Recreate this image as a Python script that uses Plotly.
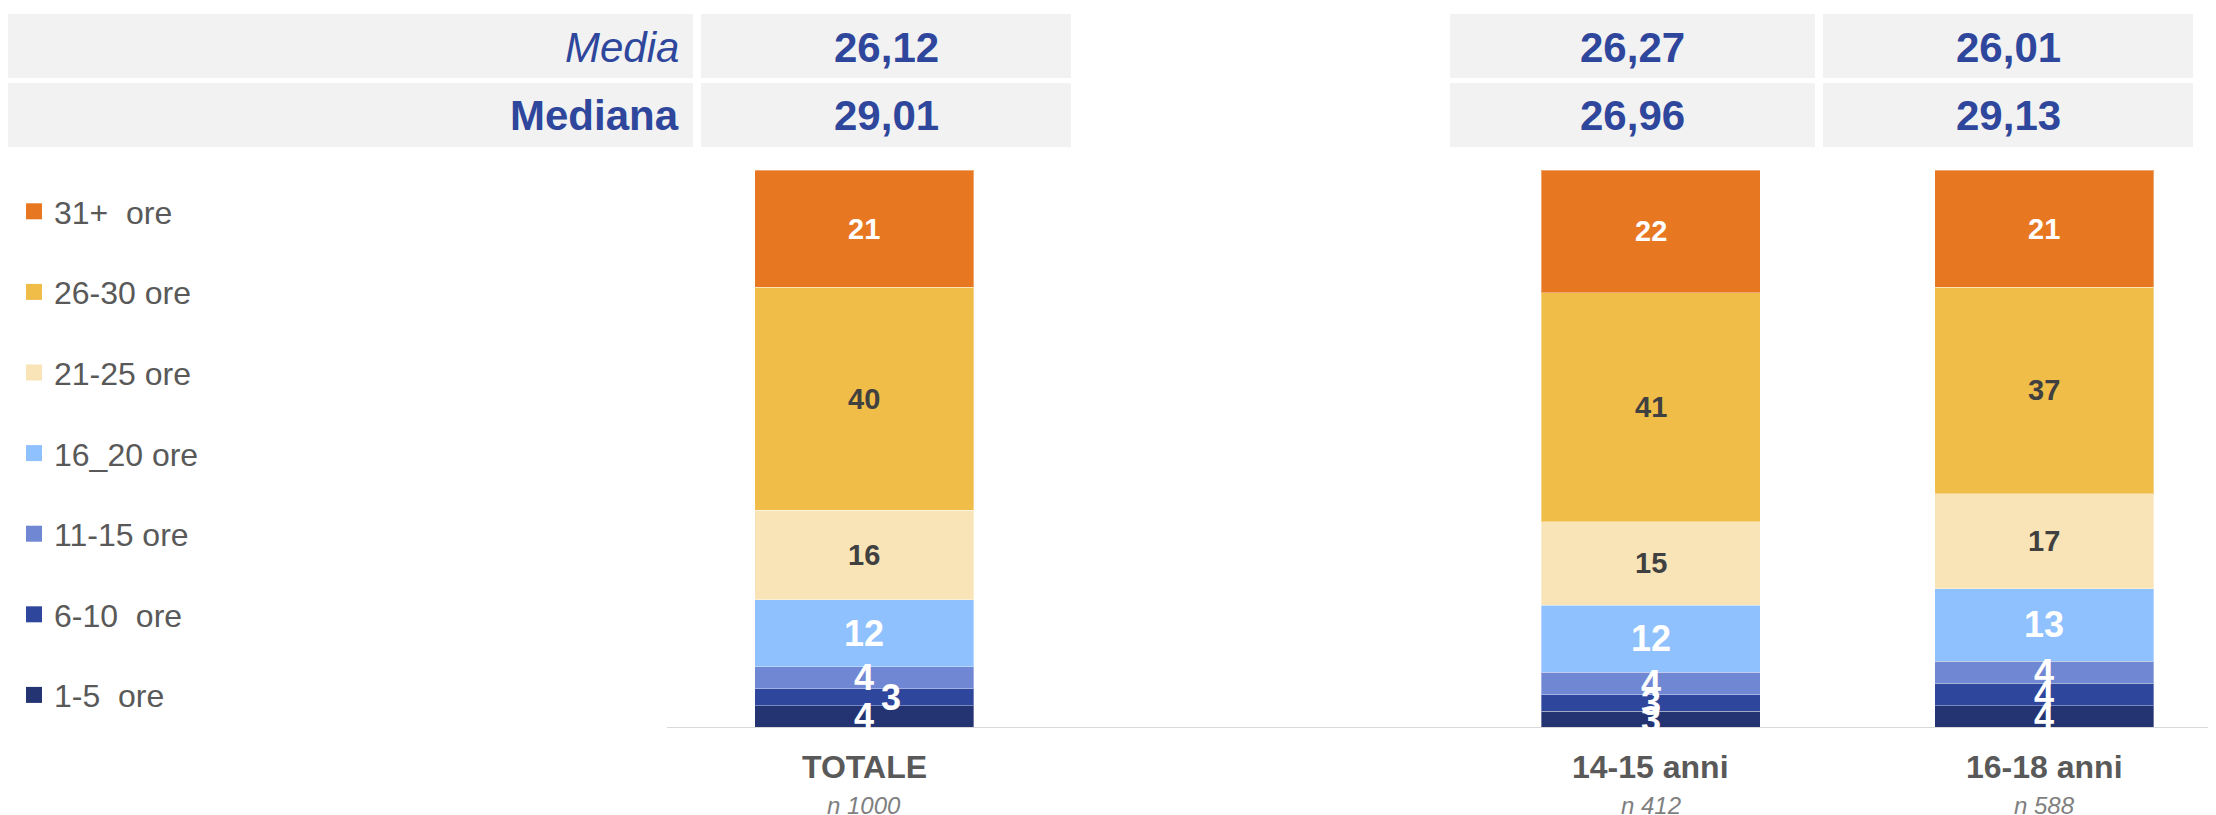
import plotly.graph_objects as go

# page has an 8px body margin, so the figure is drawn 8px smaller and positions offset
OFF = 8
W, H = 2216 - OFF, 815 - OFF

categories = ["TOTALE", "14-15 anni", "16-18 anni"]
cat_pos = [0, 2, 3]
sample_sizes = ["n 1000", "n 412", "n 588"]

bands = ["1-5\u00a0 ore", "6-10\u00a0 ore", "11-15 ore", "16_20 ore",
         "21-25 ore", "26-30 ore", "31+\u00a0 ore"]
ore_1_5 = [4, 3, 4]
ore_6_10 = [3, 3, 4]
ore_11_15 = [4, 4, 4]
ore_16_20 = [12, 12, 13]
ore_21_25 = [16, 15, 17]
ore_26_30 = [40, 41, 37]
ore_31_plus = [21, 22, 21]

media = ["26,12", "26,27", "26,01"]
mediana = ["29,01", "26,96", "29,13"]

series = [ore_1_5, ore_6_10, ore_11_15, ore_16_20, ore_21_25, ore_26_30, ore_31_plus]
colors = ["#243473", "#2E479C", "#7087D3", "#8FC1FF", "#F9E4B7", "#F0BD48", "#E87722"]
label_colors = ["white", "white", "white", "white", "#404040", "#404040", "white"]
label_sizes = [36, 36, 36, 36, 29, 29, 29]
BLUE = "#2E469C"
FONT = "Liberation Sans, Arial, sans-serif"


def px(x):
    return (x - OFF) / W


def py(y):
    return 1 - (y - OFF) / H


fig = go.Figure()
for i, (name, vals, col) in enumerate(zip(bands, series, colors)):
    fig.add_trace(go.Bar(
        x=cat_pos, y=vals, name=name, width=0.557,
        marker=dict(color=col, line=dict(color="rgba(255,255,255,0.35)", width=1)),
        showlegend=False, hoverinfo="skip",
    ))
    # legend entry with a bigger square swatch
    fig.add_trace(go.Scatter(
        x=[None], y=[None], mode="markers", name=name,
        marker=dict(symbol="square", size=16, color=col),
        legendgroup=name, legendrank=len(bands) - i, hoverinfo="skip",
    ))

annotations = []
# segment labels
base = [0, 0, 0]
for i, vals in enumerate(series):
    for j, v in enumerate(vals):
        xshift = 0
        # the "3" in TOTALE 6-10 is nudged right in the original
        if j == 0 and i == 1:
            xshift = 27
        annotations.append(dict(
            x=cat_pos[j], y=base[j] + v / 2, xref="x", yref="y",
            text=f"<b>{v}</b>", showarrow=False, xshift=xshift,
            xanchor="center", yanchor="middle",
            font=dict(size=label_sizes[i], color=label_colors[i], family=FONT),
        ))
        base[j] += v

# category labels under axis
for p, c, n in zip(cat_pos, categories, sample_sizes):
    annotations.append(dict(x=p, y=py(767), xref="x", yref="paper", text=f"<b>{c}</b>",
                            showarrow=False, xanchor="center", yanchor="middle",
                            font=dict(size=32, color="#595959", family=FONT)))
    annotations.append(dict(x=p, y=py(805), xref="x", yref="paper", text=f"<i>{n}</i>",
                            showarrow=False, xanchor="center", yanchor="middle",
                            font=dict(size=24, color="#7F7F7F", family=FONT)))

# media / mediana table
shapes = []
rows = [(14, 78), (83, 147)]
value_cells = [(701, 1071), (1450, 1815), (1823, 2193)]
for (y0, y1) in rows:
    shapes.append(dict(type="rect", xref="paper", yref="paper", x0=px(7), x1=px(693),
                       y0=py(y1), y1=py(y0), fillcolor="#F2F2F2", line=dict(width=0), layer="below"))
    for (x0, x1) in value_cells:
        shapes.append(dict(type="rect", xref="paper", yref="paper", x0=px(x0), x1=px(x1),
                           y0=py(y1), y1=py(y0), fillcolor="#F2F2F2", line=dict(width=0), layer="below"))

annotations.append(dict(x=px(681), y=py(47), xref="paper", yref="paper", text="<i>Media</i>",
                        showarrow=False, xanchor="right", yanchor="middle",
                        font=dict(size=42, color=BLUE, family=FONT)))
annotations.append(dict(x=px(681), y=py(116), xref="paper", yref="paper", text="<b>Mediana</b>",
                        showarrow=False, xanchor="right", yanchor="middle",
                        font=dict(size=42, color=BLUE, family=FONT)))
for (x0, x1), m, md in zip(value_cells, media, mediana):
    annotations.append(dict(x=px((x0 + x1) / 2), y=py(47), xref="paper", yref="paper",
                            text=f"<b>{m}</b>", showarrow=False, xanchor="center", yanchor="middle",
                            font=dict(size=42, color=BLUE, family=FONT)))
    annotations.append(dict(x=px((x0 + x1) / 2), y=py(116), xref="paper", yref="paper",
                            text=f"<b>{md}</b>", showarrow=False, xanchor="center", yanchor="middle",
                            font=dict(size=42, color=BLUE, family=FONT)))

# baseline
shapes.append(dict(type="line", xref="paper", yref="y", x0=px(667), x1=1, y0=0, y1=0,
                   line=dict(color="#D9D9D9", width=2)))

fig.update_layout(
    width=W, height=H,
    margin=dict(l=0, r=0, t=0, b=0),
    barmode="stack",
    plot_bgcolor="white", paper_bgcolor="white",
    font=dict(family=FONT, color="#595959"),
    xaxis=dict(domain=[px(667), 1], range=[-0.502, 3.437], showticklabels=False,
               showgrid=False, zeroline=False, showline=False, fixedrange=True),
    yaxis=dict(domain=[py(728), py(170)], range=[0, 100], showticklabels=False,
               showgrid=False, zeroline=False, showline=False),
    legend=dict(x=px(14), y=py(184), xanchor="left", yanchor="top",
                traceorder="grouped", tracegroupgap=36,
                font=dict(size=32, color="#595959", family=FONT),
                bgcolor="rgba(0,0,0,0)"),
    shapes=shapes,
    annotations=annotations,
)

fig.write_html("out.html")
